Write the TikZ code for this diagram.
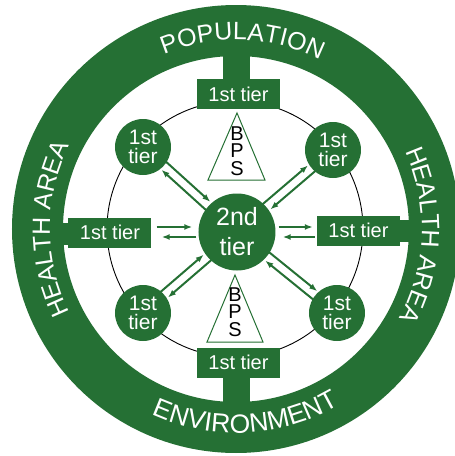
\documentclass[tikz,border=0pt]{standalone}
\usepackage{fontspec}
\setmainfont{Liberation Sans}
\usetikzlibrary{arrows.meta,calc,decorations.text,positioning}
\definecolor{tiergreen}{RGB}{37,112,52}

\tikzset{
  tierbox/.style={fill=tiergreen,text=white,minimum width=83pt,minimum height=30pt,inner sep=0pt,font=\fontsize{20}{20}\selectfont},
  tiercirc/.style={circle,fill=tiergreen,text=white,minimum size=56pt,inner sep=0pt,align=center,font=\fontsize{21}{19}\selectfont},
  flow/.style={tiergreen,line width=2pt,-{Latex[length=8pt,width=6pt]}},
  ringtext/.style 2 args={decorate,decoration={text along path,text align=center,text color=white,text={|\fontsize{#1}{#1}\selectfont|#2}}}
}

\begin{document}
\begin{tikzpicture}[x=1pt,y=1pt]
    \useasboundingbox (-236,-227) rectangle (219,229);

    % Thin circle through the first tier
    \draw[line width=0.9pt] (-1,0) circle (128pt);

    % BPS triangles
    \draw[tiergreen,line width=1pt,fill=white] (1,116) -- (29,49) -- (-28,49) -- cycle;
    \draw[tiergreen,line width=1pt,fill=white] (-1,-46) -- (27,-113) -- (-29,-113) -- cycle;
    \node[align=center,inner sep=0pt,font=\fontsize{20}{17.5}\selectfont] (bpsN) at (1,78) {B\\P\\S};
    \node[align=center,inner sep=0pt,font=\fontsize{20}{17.5}\selectfont] (bpsS) at (-1,-83) {B\\P\\S};

    % Second tier hub and first tier units
    \node[tiercirc,minimum size=77pt,font=\fontsize{25}{30}\selectfont] (hub) at (1,-3) {2nd\\tier};
    \node[tierbox] (tN) at (2.5,135) {1st tier};
    \node[tierbox] (tS) at (2.5,-133.5) {1st tier};
    \node[tierbox] (tW) at (-126,-3.5) {1st tier};
    \node[tierbox] (tE) at (122.5,-1.5) {1st tier};
    \node[tiercirc] (cNW) at (-93,82) {1st\\tier};
    \node[tiercirc] (cNE) at (97,79) {1st\\tier};
    \node[tiercirc] (cSW) at (-93,-84) {1st\\tier};
    \node[tiercirc] (cSE) at (101,-84) {1st\\tier};

    % Stubs joining the boxes to the ring
    \fill[tiergreen] ([xshift=-15.5pt]tN.north) rectangle ++(27,32);
    \fill[tiergreen] ([xshift=-15.5pt]tS.south) rectangle ++(27,-32);
    \fill[tiergreen] ([yshift=-12.5pt]tW.west) rectangle ++(-15,22);
    \fill[tiergreen] ([yshift=-11pt]tE.east) rectangle ++(18,22);

    % Flows between the tiers
    \draw[flow,shorten <=5pt,shorten >=6pt] ([yshift=5pt]hub.west -| tW.east) -- ([yshift=5pt]hub.west);
    \draw[flow,shorten <=2pt,shorten >=10pt] ([yshift=-5pt]hub.west) -- ([yshift=-5pt]hub.west -| tW.east);
    \draw[flow,shorten <=3pt,shorten >=4pt] ([yshift=5pt]hub.east) -- ([yshift=5pt]hub.east -| tE.west);
    \draw[flow,shorten <=2pt,shorten >=7pt] ([yshift=-5pt]hub.east -| tE.west) -- ([yshift=-5pt]hub.east);
    \foreach \c in {cNW,cNE,cSW,cSE}{
        \draw[flow,shorten <=26pt,shorten >=40pt] ($(\c)!4.5pt!90:(hub)$) -- ($(hub)!4.5pt!-90:(\c)$);
        \draw[flow,shorten <=36pt,shorten >=29pt] ($(hub)!4.5pt!90:(\c)$) -- ($(\c)!4.5pt!-90:(hub)$);
    }

    % Outer ring with its labels
    \fill[tiergreen,even odd rule] (0,0) circle (224pt) (0,0) circle (173pt);
    \path[ringtext={25}{POPULATION}] (148:189) arc[start angle=148,end angle=28,radius=189pt];
    \path[ringtext={26.5}{ENVIRONMENT}] (213:204) arc[start angle=213,end angle=333,radius=204pt];
    \path[ringtext={25}{HEALTH AREA}] (240:186) arc[start angle=240,end angle=120,radius=186pt];
    \path[ringtext={25}{HEALTH AREA}] (58:186) arc[start angle=58,end angle=-62,radius=186pt];
\end{tikzpicture}
\end{document}
